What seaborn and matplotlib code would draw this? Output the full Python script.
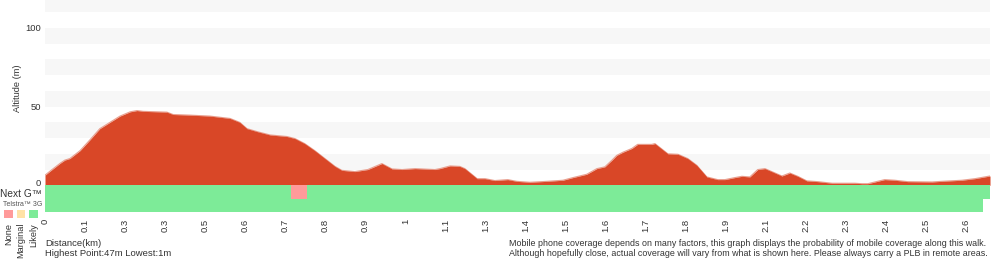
import numpy as np
import pandas as pd
import matplotlib
matplotlib.use("Agg")
import matplotlib.pyplot as plt
import seaborn as sns

# ---- data ----
distance_km = [0.000, 0.014, 0.042, 0.055, 0.069, 0.097, 0.125, 0.152, 0.180, 0.208,
               0.236, 0.255, 0.272, 0.338, 0.355, 0.402, 0.457, 0.513, 0.540, 0.560,
               0.590, 0.624, 0.671, 0.693, 0.720, 0.748, 0.776, 0.804, 0.823, 0.859,
               0.895, 0.934, 0.962, 0.990, 1.026, 1.081, 1.095, 1.123, 1.150, 1.164,
               1.198, 1.220, 1.247, 1.283, 1.308, 1.344, 1.392, 1.436, 1.464, 1.502,
               1.530, 1.552, 1.572, 1.585, 1.602, 1.627, 1.643, 1.682, 1.691, 1.727,
               1.755, 1.782, 1.807, 1.835, 1.865, 1.885, 1.913, 1.932, 1.954, 1.976,
               1.996, 2.043, 2.065, 2.087, 2.112, 2.143, 2.182, 2.245, 2.265, 2.281,
               2.328, 2.356, 2.392, 2.459, 2.486, 2.542, 2.578, 2.620]
altitude_m = [6.4, 9, 14, 16, 17, 22, 29, 36, 40, 44,
              46.7, 47.5, 47, 46.5, 45, 44.6, 44, 42.5, 40, 36,
              34, 32, 31, 29.7, 26.5, 22, 17, 12, 9.5, 8.7,
              10, 13.8, 10.4, 10, 10.6, 10, 10.6, 12.3, 12, 10.6,
              4.2, 4.2, 3, 3.6, 2.5, 1.9, 2.5, 3.2, 4.9, 7,
              10.6, 11.7, 16, 19, 21, 23.4, 26, 26, 26.5, 20,
              19.7, 17, 12.7, 5.3, 3.6, 3.6, 4.9, 5.7, 5.3, 10,
              10.6, 5.9, 7.8, 5.7, 2.8, 2.3, 1.3, 1.3, 1.0, 1.0,
              3.6, 3.2, 2.3, 2.1, 2.5, 3.2, 4.2, 5.9]

tick_labels = ["0", "0.1", "0.3", "0.3", "0.5", "0.6", "0.7", "0.8", "0.9", "1",
               "1.1", "1.3", "1.4", "1.5", "1.6", "1.7", "1.8", "1.9", "2.1", "2.2",
               "2.3", "2.4", "2.5", "2.6"]
tick_step_km = 0.111

# coverage segments (start km, end km, status)
nextg_start = [0.000, 0.682, 0.726]
nextg_end = [0.682, 0.726, 2.620]
nextg_status = ["Likely", "None", "Likely"]
telstra3g_start = [0.000]
telstra3g_end = [2.600]
telstra3g_status = ["Likely"]

status_colors = {"None": "#ff9a9a", "Marginal": "#ffe2a6", "Likely": "#7deb98"}
legend_labels = ["None", "Marginal", "Likely"]

# ---- figure ----
sns.set_theme(style="white")
plt.rcParams['font.family'] = ['Liberation Sans', 'DejaVu Sans']
fig = plt.figure(figsize=(10, 2.6), dpi=100)
ax = fig.add_axes([0.045, 0.1846, 0.945, 0.8154])

ymax = 117.8
row_h = 8.5
ax.set_xlim(0, 2.620)
ax.set_ylim(-2 * row_h, ymax)

# background stripes
for lo in range(10, 120, 20):
    ax.axhspan(lo, min(lo + 10, ymax), color="#f7f7f7", lw=0, zorder=0)

df = pd.DataFrame({"distance": distance_km, "altitude": altitude_m})
ax.fill_between(df["distance"], 0, df["altitude"], color="#d94727", lw=0, zorder=2)
sns.lineplot(data=df, x="distance", y="altitude", ax=ax, color="#e9a090",
             lw=0.8, zorder=1.5)

# coverage rows
for s, e, st in zip(nextg_start, nextg_end, nextg_status):
    ax.barh(-row_h / 2, e - s, left=s, height=row_h, color=status_colors[st],
            lw=0, zorder=3)
for s, e, st in zip(telstra3g_start, telstra3g_end, telstra3g_status):
    ax.barh(-1.5 * row_h, e - s, left=s, height=row_h, color=status_colors[st],
            lw=0, zorder=3)

for sp in ax.spines.values():
    sp.set_visible(False)
ax.set_xlabel("")
ax.set_ylabel("")
ax.set_yticks([1.5, 50, 100])
ax.set_yticklabels(["0", "50", "100"])
ax.set_xticks(np.arange(len(tick_labels)) * tick_step_km)
ax.set_xticklabels(tick_labels, rotation=90, va="top")
ax.tick_params(axis="both", length=0, labelsize=6.8, colors="#333333", pad=3)
ax.tick_params(axis="x", pad=5)

txt = "#333333"
fig.text(0.018, (260 - 88) / 260, "Altitude (m)", rotation=90, ha="center",
         va="center", fontsize=6.7, color=txt)
fig.text(0.0, (260 - 194) / 260, "Next G\u2122", ha="left", va="center",
         fontsize=7.3, color=txt)
fig.text(0.003, (260 - 204) / 260, "Telstra\u2122 3G", ha="left", va="center",
         fontsize=5.0, color="#555555")
for i, lab in enumerate(legend_labels):
    x0 = 4 + i * 12.5
    fig.patches.append(plt.Rectangle((x0 / 1000, (260 - 218) / 260), 8.5 / 1000,
                                     8.5 / 260, transform=fig.transFigure,
                                     color=status_colors[lab], lw=0))
    fig.text((x0 + 4.5) / 1000, (260 - 223) / 260, lab, rotation=90, ha="center",
             va="top", fontsize=6.6, color=txt)

fig.text(0.045, (260 - 243) / 260, "Distance(km)", ha="left", va="center",
         fontsize=6.8, color=txt)
fig.text(0.045, (260 - 254) / 260, "Highest Point:47m Lowest:1m", ha="left",
         va="center", fontsize=6.8, color=txt)
fig.text(0.509, (260 - 243) / 260,
         "Mobile phone coverage depends on many factors, this graph displays the probability of mobile coverage along this walk.",
         ha="left", va="center", fontsize=6.4, color=txt)
fig.text(0.509, (260 - 254) / 260,
         "Although hopefully close, actual coverage will vary from what is shown here. Please always carry a PLB in remote areas.",
         ha="left", va="center", fontsize=6.4, color=txt)

fig.savefig("out.png", dpi=100, facecolor="white")
